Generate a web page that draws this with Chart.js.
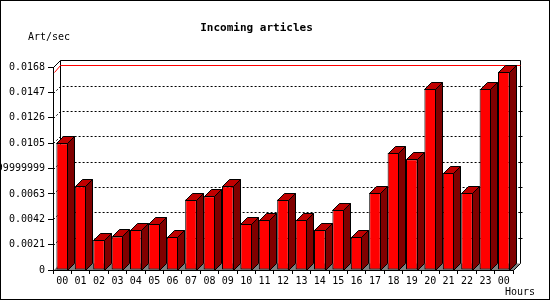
<!DOCTYPE html>
<html><head><meta charset="utf-8">
<script src="https://cdn.jsdelivr.net/npm/chart.js@4/dist/chart.umd.min.js"></script>
<style>html,body{margin:0;padding:0;background:#fff;}canvas{display:block;}</style>
</head><body>
<canvas id="c" width="550" height="300"></canvas>
<script>
// ---- data ----
const hours = ['00','01','02','03','04','05','06','07','08','09','10','11','12','13','14','15','16','17','18','19','20','21','22','23','00'];
const artPerSec = [0.0105, 0.00694, 0.0025, 0.00278, 0.00333, 0.00385, 0.00275, 0.00583, 0.00611, 0.00694, 0.00385, 0.00417, 0.00583, 0.00417, 0.00333, 0.005, 0.00275, 0.00639, 0.00972, 0.00917, 0.015, 0.00806, 0.00639, 0.015, 0.01642];
const yTickValues = [0, 0.0021, 0.0042, 0.0063, 0.0084, 0.0105, 0.0126, 0.0147, 0.0168];
const yTickLabels = ['0', '0.0021', '0.0042', '0.0063', '0.008399999999999999', '0.0105', '0.0126', '0.0147', '0.0168'];
const chartTitle = 'Incoming articles';
const yUnit = 'Art/sec';
const xUnit = 'Hours';

const DEPTH = 7;
const MONO = "'DejaVu Sans Mono', 'Liberation Mono', monospace";

function line(ctx, pts, color, dash) {
  ctx.save();
  ctx.strokeStyle = color; ctx.lineWidth = 1;
  ctx.setLineDash(dash || []);
  ctx.beginPath();
  ctx.moveTo(pts[0][0], pts[0][1]);
  for (let i = 1; i < pts.length; i++) ctx.lineTo(pts[i][0], pts[i][1]);
  ctx.stroke();
  ctx.restore();
}
function poly(ctx, pts, fill) {
  ctx.save();
  ctx.fillStyle = fill; ctx.strokeStyle = '#000'; ctx.lineWidth = 1;
  ctx.beginPath();
  ctx.moveTo(pts[0][0], pts[0][1]);
  for (let i = 1; i < pts.length; i++) ctx.lineTo(pts[i][0], pts[i][1]);
  ctx.closePath(); ctx.fill(); ctx.stroke();
  ctx.restore();
}

const frame3d = {
  id: 'frame3d',
  beforeDraw(chart) {
    const ctx = chart.ctx;
    ctx.save();
    ctx.fillStyle = '#fff';
    ctx.fillRect(0, 0, chart.width, chart.height);
    ctx.strokeStyle = '#000'; ctx.lineWidth = 1;
    ctx.strokeRect(0.5, 0.5, chart.width - 1, chart.height - 1);
    ctx.fillStyle = '#000';
    ctx.font = '10px ' + MONO;
    ctx.textBaseline = 'middle'; ctx.textAlign = 'left';
    ctx.fillText(yUnit, 28, 37);
    ctx.textAlign = 'right';
    ctx.fillText(xUnit, 535, 292);
    ctx.restore();
  },
  beforeDatasetsDraw(chart) {
    const ctx = chart.ctx, a = chart.chartArea, y = chart.scales.y;
    const D = DEPTH;
    const L = Math.round(a.left) + 0.5, R = Math.round(a.right) + 0.5;
    const B = Math.round(y.getPixelForValue(0)) + 0.5;
    const T = Math.round(y.getPixelForValue(yTickValues[yTickValues.length - 1])) + 0.5;
    // floor
    ctx.save();
    ctx.fillStyle = '#808080';
    ctx.beginPath();
    ctx.moveTo(L, B); ctx.lineTo(L + D, B - D); ctx.lineTo(R + D, B - D); ctx.lineTo(R, B);
    ctx.closePath(); ctx.fill();
    ctx.restore();
    // back walls
    line(ctx, [[L, T], [L + D, T - D], [R + D, T - D], [R + D, B - D], [R, B]], '#000');
    line(ctx, [[L + D, T - D], [L + D, B - D]], '#000');
    line(ctx, [[L, B], [R, B]], '#000');
    line(ctx, [[L, T], [L, B]], '#000');
    // grid lines on back wall
    for (let i = 1; i < yTickValues.length - 1; i++) {
      const yy = Math.round(y.getPixelForValue(yTickValues[i])) + 0.5;
      line(ctx, [[L, yy], [L + D, yy - D], [R + D, yy - D]], '#000', [2, 2]);
      line(ctx, [[R + D - 2, yy - D], [R + D + 2, yy - D]], '#000');
    }
    // maximum line
    const maxV = Math.max(...artPerSec);
    const ym = Math.round(y.getPixelForValue(maxV)) + 0.5;
    line(ctx, [[L + 1, ym], [L + D, ym - D], [R + D, ym - D]], '#ff0000');
  },
  afterDatasetsDraw(chart) {
    const ctx = chart.ctx, D = DEPTH;
    const meta = chart.getDatasetMeta(0);
    meta.data.forEach(el => {
      const x0 = Math.round(el.x - el.width / 2) + 0.5;
      const x1 = Math.round(el.x + el.width / 2) - 0.5;
      const t = Math.round(el.y) + 0.5;
      const b = Math.round(el.base) + 0.5;
      poly(ctx, [[x1, t], [x1 + D, t - D], [x1 + D, b - D], [x1, b]], '#800000');
      poly(ctx, [[x0, t], [x0 + D, t - D], [x1 + D, t - D], [x1, t]], '#c00000');
    });
  }
};

new Chart(document.getElementById('c'), {
  type: 'bar',
  data: {
    labels: hours,
    datasets: [{
      label: yUnit,
      data: artPerSec,
      backgroundColor: '#ff0000',
      borderColor: '#000000',
      borderWidth: 1,
      borderSkipped: false,
      barPercentage: 0.63,
      categoryPercentage: 1.0
    }]
  },
  options: {
    responsive: false,
    animation: false,
    devicePixelRatio: 1,
    layout: { padding: { left: 0, right: 37, top: 0, bottom: 0 } },
    plugins: {
      legend: { display: false },
      tooltip: { enabled: false },
      title: {
        display: true, text: chartTitle, color: '#000',
        font: { family: MONO, size: 11, weight: 'bold' },
        padding: { top: 22, bottom: 32 }
      }
    },
    scales: {
      x: {
        grid: { display: true, drawOnChartArea: false, drawTicks: true, tickLength: 4, color: '#000', offset: true },
        border: { display: true, color: '#000' },
        ticks: { color: '#000', font: { family: MONO, size: 10 }, padding: 1, maxRotation: 0, autoSkip: false },
        afterFit(s) { s.height = 30; }
      },
      y: {
        min: 0, max: yTickValues[yTickValues.length - 1],
        afterBuildTicks(s) { s.ticks = yTickValues.map(v => ({ value: v })); },
        grid: { display: true, drawOnChartArea: false, drawTicks: true, tickLength: 5, color: '#000' },
        border: { display: true, color: '#000' },
        ticks: {
          color: '#000', font: { family: MONO, size: 10 }, padding: 3,
          callback(v, i) { return yTickLabels[i]; }
        },
        afterFit(s) { s.width = 53; }
      }
    }
  },
  plugins: [frame3d]
});
</script>
</body></html>
